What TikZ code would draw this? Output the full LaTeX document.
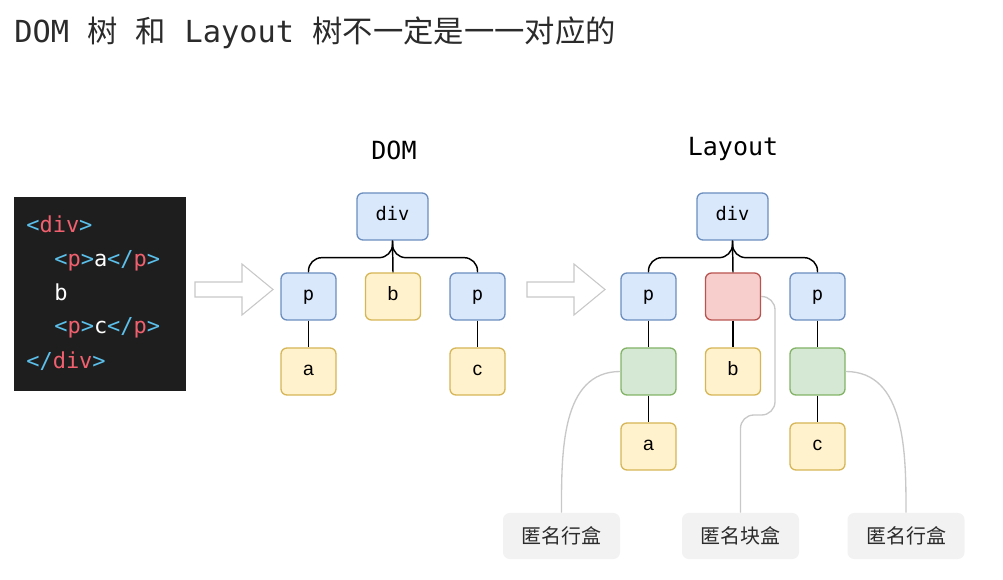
\documentclass[tikz,border=0pt]{standalone}
\usepackage{fontspec}
\setmainfont{Liberation Sans}
\setmonofont{DejaVu Sans Mono}
\newfontfamily\cjk{Noto Sans CJK SC}
\usetikzlibrary{positioning}

\definecolor{elemfill}{HTML}{DAE8FC}
\definecolor{elemline}{HTML}{6C8EBF}
\definecolor{textfill}{HTML}{FFF2CC}
\definecolor{textline}{HTML}{D6B656}
\definecolor{linefill}{HTML}{D5E8D4}
\definecolor{lineline}{HTML}{82B366}
\definecolor{blockfill}{HTML}{F8CECC}
\definecolor{blockline}{HTML}{B85450}
\definecolor{codebg}{HTML}{1E1E1E}
\definecolor{codepunct}{HTML}{5BC0EB}
\definecolor{codename}{HTML}{F0606E}
\definecolor{notefill}{HTML}{F2F2F2}
\definecolor{noteline}{HTML}{C8C8C8}
\definecolor{ink}{HTML}{2B2B2B}

\newcommand{\tagp}[1]{\textcolor{codepunct}{#1}}
\newcommand{\tagn}[1]{\textcolor{codename}{#1}}

\tikzset{
  treebox/.style={draw, rounded corners=4.5pt, line width=1pt, inner sep=0pt,
    minimum width=41.25pt, minimum height=35.25pt, text height=0.75em, text depth=0.22em},
  elem/.style={treebox, fill=elemfill, draw=elemline, font=\ttfamily\fontsize{14}{16}\selectfont},
  txt/.style={treebox, fill=textfill, draw=textline, font=\fontsize{14.5}{16}\selectfont},
  anonline/.style={treebox, fill=linefill, draw=lineline},
  anonblock/.style={treebox, fill=blockfill, draw=blockline},
  treeline/.style={draw=black, line width=1.1pt, rounded corners=10pt},
  notebox/.style={fill=notefill, rounded corners=5pt, minimum width=87.75pt, minimum height=34.5pt,
    text=ink, font=\cjk\fontsize{15}{17}\selectfont},
  noteedge/.style={draw=noteline, line width=1pt},
  bigarrow/.style={draw=noteline, fill=white, line width=0.8pt},
  codeline/.style={anchor=base west, inner sep=0pt, text=white, font=\ttfamily\fontsize{16.5}{18}\selectfont},
  heading/.style={anchor=base, inner sep=0pt, text=black, font=\ttfamily\fontsize{18.75}{20}\selectfont},
}

\begin{document}
\begin{tikzpicture}[x=0.75pt,y=-0.75pt]
    \useasboundingbox (0,0) rectangle (1003,580);

    % Titel
    \node[anchor=base west, inner sep=0pt, text=ink, font=\ttfamily\fontsize{22.75}{25}\selectfont] (title) at (14,43)
        {DOM {\cjk 树} {\cjk 和} Layout {\cjk 树不一定是一一对应的}};

    % Quelltext
    \node[fill=codebg, minimum width=129pt, minimum height=145.5pt, inner sep=0pt] (code) at (100,294) {};
    \node[codeline] (line1) at (26,233) {\tagp{<}\tagn{div}\tagp{>}};
    \node[codeline] (line2) at (54,267) {\tagp{<}\tagn{p}\tagp{>}a\tagp{</}\tagn{p}\tagp{>}};
    \node[codeline] (line3) at (54,301) {b};
    \node[codeline] (line4) at (54,334) {\tagp{<}\tagn{p}\tagp{>}c\tagp{</}\tagn{p}\tagp{>}};
    \node[codeline] (line5) at (26,369) {\tagp{</}\tagn{div}\tagp{>}};

    \draw[bigarrow] (195,282) -- (242,282) -- (242,264) -- (273,289.5) -- (242,315) -- (242,297) -- (195,297) -- cycle;
    \draw[bigarrow] (527,282) -- (574,282) -- (574,264) -- (605,289.5) -- (574,315) -- (574,297) -- (527,297) -- cycle;

    % DOM-Baum
    \node[heading] (domtitle) at (394,160) {DOM};
    \node[elem, minimum width=53.25pt] (ddiv) at (392.5,216.5) {div};
    \node[elem] (dp1) at (308.5,296.5) {p};
    \node[txt] (db) at (393,296.5) {b};
    \node[elem] (dp2) at (477.5,296.5) {p};
    \node[txt] (da) at (308.5,371.5) {a};
    \node[txt] (dc) at (477.5,371.5) {c};

    \draw[treeline] (ddiv.south) -- ++(0,17) -| (dp1.north);
    \draw[treeline] (ddiv.south) -- (db.north);
    \draw[treeline] (ddiv.south) -- ++(0,17) -| (dp2.north);
    \draw[treeline] (dp1) -- (da);
    \draw[treeline] (dp2) -- (dc);

    % Layout-Baum
    \node[heading] (laytitle) at (733,156) {Layout};
    \node[elem, minimum width=53.25pt] (ldiv) at (732.5,216.5) {div};
    \node[elem] (lp1) at (648.5,296.5) {p};
    \node[anonblock] (lblk) at (733,296.5) {};
    \node[elem] (lp2) at (817.5,296.5) {p};
    \node[anonline] (lln1) at (648.5,371.5) {};
    \node[txt] (lb) at (733,371.5) {b};
    \node[anonline] (lln2) at (817.5,371.5) {};
    \node[txt] (la) at (648.5,446.5) {a};
    \node[txt] (lc) at (817.5,446.5) {c};

    \draw[treeline] (ldiv.south) -- ++(0,17) -| (lp1.north);
    \draw[treeline] (ldiv.south) -- (lblk.north);
    \draw[treeline] (ldiv.south) -- ++(0,17) -| (lp2.north);
    \draw[treeline] (lp1) -- (lln1);
    \draw[treeline] (lln1) -- (la);
    \draw[treeline] (lblk) -- (lb);
    \draw[treeline] (lp2) -- (lln2);
    \draw[treeline] (lln2) -- (lc);

    % Anmerkungen
    \node[notebox] (note1) at (561.5,536) {匿名行盒};
    \node[notebox] (note2) at (740.5,536) {匿名块盒};
    \node[notebox] (note3) at (906,536) {匿名行盒};

    \coordinate (kink) at (775,415);
    \draw[noteedge] (note1.north) to[out=90,in=180] (lln1.west);
    \draw[noteedge, rounded corners=10pt] (lblk.east) -| (kink) -| (note2.north);
    \draw[noteedge] (lln2.east) to[out=0,in=90] (note3.north);

\end{tikzpicture}
\end{document}
